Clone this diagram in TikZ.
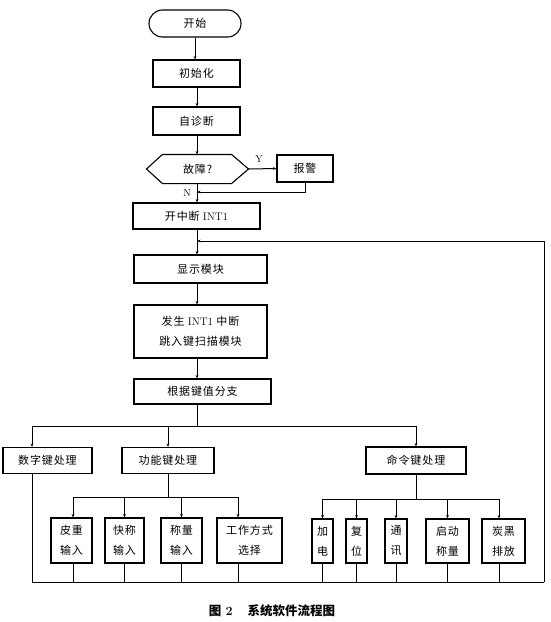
\documentclass[tikz,border=0pt]{standalone}
\usepackage{fontspec}
\newfontfamily\cjk[LetterSpace=8]{Noto Sans CJK SC}
\newfontfamily\cjkcap{Noto Sans CJK SC}
\usetikzlibrary{arrows.meta}
\begin{document}
\begin{tikzpicture}[x=1pt,y=-1pt,
  box/.style={draw, line width=1.1pt, inner sep=0pt, align=center,
    font=\cjk\fontsize{11}{20}\selectfont},
  ln/.style={line width=1pt},
  arr/.style={ln, -{Stealth[length=3.5pt,width=2.8pt]}},
  lbl/.style={inner sep=0pt, font=\fontsize{10}{12}\selectfont}]
\useasboundingbox (0,0) rectangle (550,622);
% main column
\coordinate (M) at (197,0);
\node[box, minimum width=92pt, minimum height=27pt, rounded corners=13.5pt] (start) at (195,23.5) {开始};
\node[box, minimum width=87pt, minimum height=27pt] (init) at (196.5,73.5) {初始化};
\node[box, minimum width=87pt, minimum height=28pt] (diag) at (196.5,121) {自诊断};
\node[box, draw=none, minimum width=101pt, minimum height=28pt] (dec) at (197.5,169) {故障?};
\draw[line width=1.1pt] (dec.west) -- ([xshift=16pt]dec.north west) -- ([xshift=-17pt]dec.north east)
  -- (dec.east) -- ([xshift=-17pt]dec.south east) -- ([xshift=16pt]dec.south west) -- cycle;
\node[box, minimum width=56pt, minimum height=27pt] (alarm) at (305,168.5) {报警};
\node[box, minimum width=127pt, minimum height=26pt] (kzd) at (196.5,216) {开中断 {\rmfamily INT1}};
\node[box, minimum width=133pt, minimum height=28pt] (disp) at (200.5,269) {显示模块};
\node[box, minimum width=133pt, minimum height=53pt] (fs) at (200.5,331.5) {发生 {\rmfamily INT1} 中断\\跳入键扫描模块};
\node[box, minimum width=137pt, minimum height=25pt] (gj) at (202.5,391.5) {根据键值分支};
% second level
\node[box, minimum width=89pt, minimum height=26pt] (num) at (47.5,460.5) {数字键处理};
\node[box, minimum width=92pt, minimum height=26pt] (func) at (168,460.5) {功能键处理};
\node[box, minimum width=100pt, minimum height=27pt] (cmd) at (416,460.5) {命令键处理};
% third level
\node[box, minimum width=41pt, minimum height=45pt] (pz) at (71.5,540.5) {皮重\\输入};
\node[box, minimum width=39pt, minimum height=45pt] (kc) at (124.5,540.5) {快称\\输入};
\node[box, minimum width=41pt, minimum height=45pt] (cl) at (181.5,540.5) {称量\\输入};
\node[box, minimum width=65pt, minimum height=45pt] (gz) at (249.5,540.5) {工作方式\\选择};
\node[box, minimum width=21pt, minimum height=44pt] (jd) at (322.5,541) {加\\电};
\node[box, minimum width=21pt, minimum height=44pt] (fw) at (356.5,541) {复\\位};
\node[box, minimum width=22pt, minimum height=44pt] (tx) at (396,541) {通\\讯};
\node[box, minimum width=43pt, minimum height=44pt] (qd) at (447.5,541) {启动\\称量};
\node[box, minimum width=43pt, minimum height=44pt] (th) at (503.5,541) {炭黑\\排放};
% labels
\node[lbl] (Y) at (259,159) {Y};
\node[lbl] (N) at (187,193) {N};
% helper coordinates
\coordinate (J1) at (197,192);
\coordinate (LJ) at (197,241);
\coordinate (LR) at (544,241);
\coordinate (BR) at (544,582);
\coordinate (BL) at (32,426);
\coordinate (B0) at (197,426);
\coordinate (SF) at (73,497);
\coordinate (SC) at (322.5,499);
\coordinate (GZX) at (238,497);
\coordinate (THX) at (499,499);
% main connectors
\draw[arr] (start.south) -- (init.north -| start.south);
\draw[arr] (init.south -| M) -- (diag.north -| M);
\draw[arr] (diag.south -| M) -- (dec.north -| M);
\draw[arr] (dec.east) -- (alarm.west);
\draw[arr] (alarm.south) |- (J1);
\draw[arr] (dec.south -| M) -- (kzd.north -| M);
\draw[arr] (kzd.south -| M) -- (disp.north -| M);
\draw[arr] (disp.south -| M) -- (fs.north -| M);
\draw[arr] (fs.south -| M) -- (gj.north -| M);
\draw[ln] (gj.south -| M) -- (B0);
% loop back
\draw[arr] (BR) -- (LR) -- (LJ);
% first branch
\draw[ln] (BL) -- (cmd.north |- BL);
\draw[arr] (BL) -- (BL |- num.north);
\draw[arr] (func.north |- BL) -- (func.north);
\draw[arr] (cmd.north |- BL) -- (cmd.north);
% function sub-branch
\draw[ln] (func.south) -- (func.south |- SF);
\draw[ln] (SF) -- (GZX);
\draw[arr] (SF) -- (SF |- pz.north);
\draw[arr] (kc.north |- SF) -- (kc.north);
\draw[arr] (cl.north |- SF) -- (cl.north);
\draw[arr] (GZX) -- (GZX |- gz.north);
% command sub-branch
\draw[ln] (cmd.south) -- (cmd.south |- SC);
\draw[ln] (SC) -- (THX);
\draw[arr] (SC) -- (jd.north);
\draw[arr] (fw.north |- SC) -- (fw.north);
\draw[arr] (tx.north |- SC) -- (tx.north);
\draw[arr] (qd.north |- SC) -- (qd.north);
\draw[arr] (THX) -- (THX |- th.north);
% bottom return
\draw[ln] (BL |- num.south) -- (BL |- BR) -- (BR);
\draw[ln] (SF |- pz.south) -- (SF |- BR);
\draw[ln] (kc.south) -- (kc.south |- BR);
\draw[ln] (cl.south) -- (cl.south |- BR);
\draw[ln] (GZX |- gz.south) -- (GZX |- BR);
\draw[ln] (jd.south) -- (jd.south |- BR);
\draw[ln] (fw.south) -- (fw.south |- BR);
\draw[ln] (tx.south) -- (tx.south |- BR);
\draw[ln] (qd.south) -- (qd.south |- BR);
\draw[ln] (THX |- th.south) -- (THX |- BR);
% caption
\node[inner sep=0pt, font=\cjkcap\bfseries\fontsize{12.5}{14}\selectfont] (cap) at (272,611)
  {图\hspace{0.35em}{\rmfamily\bfseries 2}\hspace{1.2em}系统软件流程图};
\end{tikzpicture}
\end{document}
